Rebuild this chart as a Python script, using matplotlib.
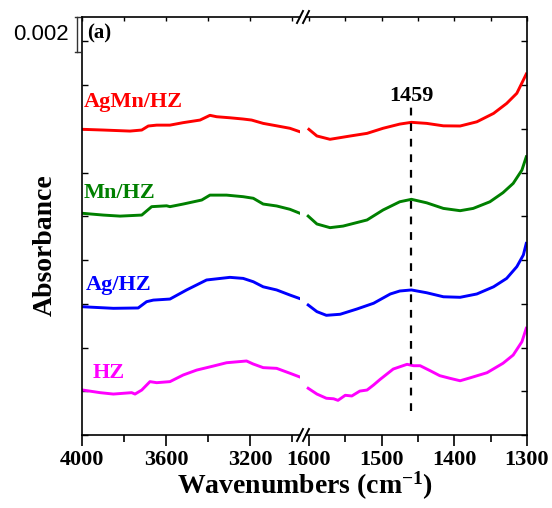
import numpy as np
import matplotlib.pyplot as plt
from matplotlib.transforms import blended_transform_factory
from matplotlib.ticker import MultipleLocator

plt.rcParams['font.family'] = 'Liberation Serif'
plt.rcParams['font.weight'] = 'bold'
plt.rcParams['mathtext.fontset'] = 'custom'
plt.rcParams['mathtext.rm'] = 'Liberation Serif:bold'
plt.rcParams['mathtext.bf'] = 'Liberation Serif:bold'
plt.rcParams['mathtext.default'] = 'rm'
plt.rcParams['axes.linewidth'] = 1.2

# === Spectra, high wavenumber part (4000 - 2960 cm-1) ===
wn_agmn_hi = [3997, 3899, 3772, 3716, 3685, 3645, 3582, 3520, 3439, 3392, 3360, 3297, 3235, 3194, 3139, 3075, 3012, 2964]
ab_agmn_hi = [0.01747, 0.01743, 0.01737, 0.01743, 0.01766, 0.01771, 0.01771, 0.01785, 0.01800, 0.01827,
              0.01819, 0.01813, 0.01806, 0.01800, 0.01781, 0.01767, 0.01753, 0.01733]

wn_mn_hi = [3997, 3899, 3819, 3716, 3669, 3598, 3582, 3519, 3431, 3392, 3313, 3234, 3186, 3139, 3075, 3012, 2964]
ab_mn_hi = [0.01267, 0.01257, 0.01251, 0.01257, 0.01305, 0.01310, 0.01305, 0.01320, 0.01343, 0.01371,
            0.01371, 0.01362, 0.01353, 0.01320, 0.01309, 0.01290, 0.01267]

wn_ag_hi = [3997, 3851, 3733, 3693, 3661, 3582, 3503, 3408, 3297, 3234, 3186, 3139, 3075, 3012, 2968]
ab_ag_hi = [0.00733, 0.00724, 0.00726, 0.00762, 0.00771, 0.00777, 0.00829, 0.00886, 0.00901, 0.00895,
            0.00876, 0.00847, 0.00829, 0.00800, 0.00781]

wn_hz_hi = [3997, 3914, 3851, 3764, 3748, 3716, 3677, 3645, 3582, 3519, 3455, 3376, 3313, 3218, 3187,
            3139, 3075, 3012, 2968]
ab_hz_hi = [0.00257, 0.00242, 0.00234, 0.00242, 0.00234, 0.00257, 0.00305, 0.00299, 0.00305, 0.00343,
            0.00371, 0.00394, 0.00413, 0.00423, 0.00406, 0.00385, 0.00381, 0.00353, 0.00333]

# === Spectra, low wavenumber part (1600 - 1300 cm-1) ===
wn_agmn_lo = [1600, 1589, 1571, 1543, 1520, 1498, 1475, 1459, 1438, 1415, 1392, 1369, 1346, 1328, 1314, 1305, 1301]
ab_agmn_lo = [0.01747, 0.01709, 0.01690, 0.01709, 0.01724, 0.01753, 0.01777, 0.01787, 0.01781, 0.01767,
              0.01766, 0.01790, 0.01838, 0.01895, 0.01953, 0.02029, 0.02063]

wn_mn_lo = [1601, 1589, 1571, 1553, 1520, 1498, 1475, 1459, 1438, 1415, 1392, 1374, 1351, 1333, 1319, 1307, 1301]
ab_mn_lo = [0.01251, 0.01206, 0.01185, 0.01194, 0.01229, 0.01286, 0.01333, 0.01347, 0.01327, 0.01295,
            0.01282, 0.01295, 0.01333, 0.01385, 0.01438, 0.01514, 0.01590]

wn_ag_lo = [1601, 1589, 1576, 1557, 1534, 1511, 1488, 1475, 1459, 1438, 1415, 1392, 1369, 1346, 1328,
            1314, 1305, 1301]
ab_ag_lo = [0.00743, 0.00705, 0.00684, 0.00690, 0.00720, 0.00753, 0.00806, 0.00823, 0.00829, 0.00813,
            0.00790, 0.00787, 0.00806, 0.00847, 0.00895, 0.00962, 0.01029, 0.01095]

wn_hz_lo = [1601, 1589, 1576, 1566, 1560, 1550, 1541, 1530, 1520, 1511, 1502, 1484, 1465, 1456, 1447,
            1433, 1420, 1406, 1392, 1378, 1355, 1333, 1319, 1307, 1301]
ab_hz_lo = [0.00267, 0.00234, 0.00210, 0.00207, 0.00198, 0.00227, 0.00223, 0.00251, 0.00257, 0.00286,
            0.00318, 0.00377, 0.00404, 0.00396, 0.00396, 0.00367, 0.00339, 0.00324, 0.00310, 0.00327,
            0.00356, 0.00410, 0.00457, 0.00533, 0.00610]

names = ['AgMn/HZ', 'Mn/HZ', 'Ag/HZ', 'HZ']
colors = ['#ff0000', '#008000', '#0000ff', '#ff00ff']
label_x = [3990, 3990, 3980, 3950]
label_y = [0.01905, 0.01383, 0.00857, 0.00354]
peak = 1459

W, H = 552, 508
fig = plt.figure(figsize=(W / 100, H / 100), dpi=100)

# left part 82-300 px, right part 306-527 px, y 17-435 px
ax1 = fig.add_axes([82 / W, (H - 435) / H, 218 / W, 418 / H])
ax2 = fig.add_axes([306 / W, (H - 435) / H, 221 / W, 418 / H])

hi = [(wn_agmn_hi, ab_agmn_hi), (wn_mn_hi, ab_mn_hi), (wn_ag_hi, ab_ag_hi), (wn_hz_hi, ab_hz_hi)]
lo = [(wn_agmn_lo, ab_agmn_lo), (wn_mn_lo, ab_mn_lo), (wn_ag_lo, ab_ag_lo), (wn_hz_lo, ab_hz_lo)]
for (x, y), c in zip(hi, colors):
    ax1.plot(x, y, color=c, lw=2.1, solid_joinstyle='round')
for (x, y), c in zip(lo, colors):
    ax2.plot(x, y, color=c, lw=2.1, solid_joinstyle='round')

ymax = 0.02389
for ax in (ax1, ax2):
    ax.set_ylim(0, ymax)
    ax.yaxis.set_major_locator(MultipleLocator(0.0025))
    ax.set_yticklabels([])
    ax.tick_params(axis='y', direction='in', length=4, width=1)
    ax.tick_params(axis='x', direction='out', length=8, width=1.2, labelsize=16, pad=3)
    ax.tick_params(axis='x', which='minor', direction='out', length=5, width=1.2)

ax1.set_xlim(4000, 2964)
ax1.set_xticks([4000, 3600, 3200])
ax1.xaxis.set_minor_locator(MultipleLocator(200))
ax1.spines['right'].set_visible(False)
ax1.tick_params(axis='y', left=True, right=False)

ax2.set_xlim(1604, 1300)
ax2.set_xticks([1600, 1500, 1400, 1300])
ax2.xaxis.set_minor_locator(MultipleLocator(50))
ax2.spines['left'].set_visible(False)
ax2.tick_params(axis='y', left=False, right=True)

for ax in (ax1, ax2):
    for t in ax.get_xticklabels():
        t.set_fontweight('bold')

# small inward ticks on the top spine
for ax, maj, step in ((ax1, [4000, 3600, 3200], 200), (ax2, [1600, 1500, 1400, 1300], 50)):
    top = ax.secondary_xaxis('top')
    top.set_xticks(maj)
    top.xaxis.set_minor_locator(MultipleLocator(step))
    top.tick_params(which='both', direction='in', length=3, width=1, labeltop=False)
    top.spines['top'].set_visible(False)

# peak marker
ax2.plot([peak, peak], [0.00137, 0.01886], color='black', lw=1.6, ls=(0, (3.5, 3.5)))
ax2.text(peak, 0.01935, str(peak), ha='center', va='center', fontsize=16, fontweight='bold')

# sample names
for name, c, x, y in zip(names, colors, label_x, label_y):
    ax1.text(x, y, name, color=c, fontsize=16, fontweight='bold', ha='left', va='center')

ax1.text(3975, 0.02297, '(a)', fontsize=15, fontweight='bold', ha='left', va='center')

# axis break marks
for xp in (300, 306):
    for yp in (17, 435):
        fig.add_artist(plt.Line2D([(xp - 3) / W, (xp + 3) / W], [(H - yp - 6) / H, (H - yp + 6) / H],
                                  color='black', lw=1.4))

# 0.002 scale bar
tr = blended_transform_factory(fig.transFigure, ax1.transData)
xb = 77 / W
cap = 2.5 / W
ax1.plot([xb, xb], [ymax - 0.002, ymax], color='#333333', lw=1, transform=tr, clip_on=False)
for yb in (ymax - 0.002, ymax):
    ax1.plot([xb - cap, xb + cap], [yb, yb], color='#333333', lw=1, transform=tr, clip_on=False)
fig.text(69 / W, 1 - 35 / H, '0.002', fontsize=16, fontfamily='Liberation Sans', fontweight='normal',
         ha='right', va='center')

fig.text(305 / W, 1 - 486 / H, 'Wavenumbers (cm$^{-1}$)', fontsize=20, fontweight='bold',
         ha='center', va='center')
fig.text(45 / W, 1 - 245 / H, 'Absorbance', fontsize=20, fontweight='bold', rotation=90,
         ha='center', va='center')

fig.savefig('out.png', dpi=100)
